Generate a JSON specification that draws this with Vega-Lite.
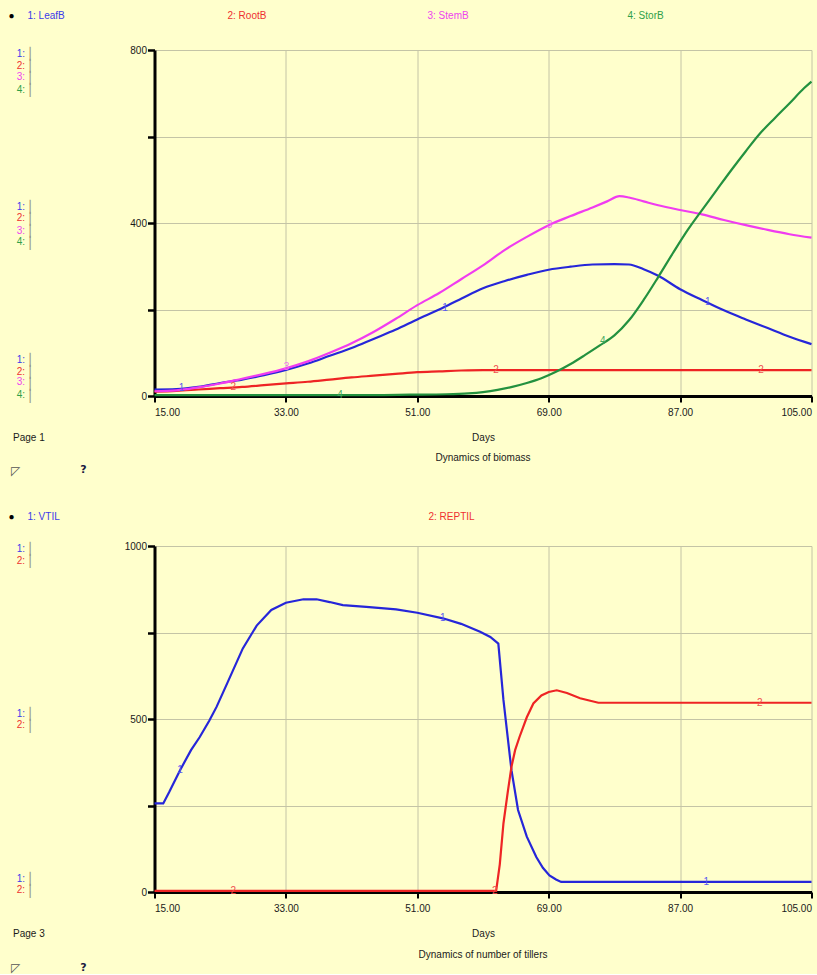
{
  "$schema": "https://vega.github.io/schema/vega-lite/v6.json",
  "background": "#FFFFCC",
  "padding": {"left": 8.5, "top": 11, "right": 4, "bottom": 1},
  "spacing": 150,
  "bounds": "flush",
  "resolve": {"scale": {"color": "independent"}, "legend": {"color": "independent"}},
  "config": {
    "view": {"stroke": null},
    "font": "Liberation Sans",
    "axis": {"labelFont": "Liberation Sans", "titleFont": "Liberation Sans", "labelFontSize": 10, "titleFontSize": 10, "titleFontWeight": "normal", "labelColor": "#1a1a1a", "titleColor": "#1a1a1a", "labelOverlap": false}
  },
  "datasets": {
    "biomass": [
      {"day":15,"series":"1: LeafB","value":15},{"day":18,"series":"1: LeafB","value":16},{"day":21,"series":"1: LeafB","value":21},{"day":24,"series":"1: LeafB","value":30},{"day":27,"series":"1: LeafB","value":38},{"day":30,"series":"1: LeafB","value":48},{"day":33,"series":"1: LeafB","value":60},{"day":36,"series":"1: LeafB","value":75},{"day":39,"series":"1: LeafB","value":93},{"day":42,"series":"1: LeafB","value":111},{"day":45,"series":"1: LeafB","value":132},{"day":48,"series":"1: LeafB","value":153},{"day":51,"series":"1: LeafB","value":177},{"day":54,"series":"1: LeafB","value":200},{"day":57,"series":"1: LeafB","value":225},{"day":60,"series":"1: LeafB","value":249},{"day":63,"series":"1: LeafB","value":266},{"day":66,"series":"1: LeafB","value":280},{"day":69,"series":"1: LeafB","value":292},{"day":72,"series":"1: LeafB","value":299},{"day":75,"series":"1: LeafB","value":304},{"day":78,"series":"1: LeafB","value":305},{"day":80,"series":"1: LeafB","value":304},{"day":82,"series":"1: LeafB","value":293},{"day":84,"series":"1: LeafB","value":278},{"day":87,"series":"1: LeafB","value":247},{"day":90,"series":"1: LeafB","value":222},{"day":93,"series":"1: LeafB","value":198},{"day":96,"series":"1: LeafB","value":177},{"day":99,"series":"1: LeafB","value":157},{"day":102,"series":"1: LeafB","value":137},{"day":105,"series":"1: LeafB","value":120},
      {"day":15,"series":"2: RootB","value":10},{"day":18,"series":"2: RootB","value":12},{"day":21,"series":"2: RootB","value":15},{"day":24,"series":"2: RootB","value":18},{"day":27,"series":"2: RootB","value":21},{"day":30,"series":"2: RootB","value":25},{"day":33,"series":"2: RootB","value":29},{"day":36,"series":"2: RootB","value":33},{"day":39,"series":"2: RootB","value":38},{"day":42,"series":"2: RootB","value":43},{"day":45,"series":"2: RootB","value":47},{"day":48,"series":"2: RootB","value":51},{"day":51,"series":"2: RootB","value":55},{"day":54,"series":"2: RootB","value":57},{"day":57,"series":"2: RootB","value":59},{"day":60,"series":"2: RootB","value":60},{"day":70,"series":"2: RootB","value":60},{"day":80,"series":"2: RootB","value":60},{"day":90,"series":"2: RootB","value":60},{"day":105,"series":"2: RootB","value":60},
      {"day":15,"series":"3: StemB","value":11},{"day":18,"series":"3: StemB","value":13},{"day":21,"series":"3: StemB","value":20},{"day":24,"series":"3: StemB","value":29},{"day":27,"series":"3: StemB","value":40},{"day":30,"series":"3: StemB","value":51},{"day":33,"series":"3: StemB","value":64},{"day":36,"series":"3: StemB","value":80},{"day":39,"series":"3: StemB","value":100},{"day":42,"series":"3: StemB","value":122},{"day":45,"series":"3: StemB","value":148},{"day":48,"series":"3: StemB","value":178},{"day":51,"series":"3: StemB","value":210},{"day":54,"series":"3: StemB","value":238},{"day":57,"series":"3: StemB","value":270},{"day":60,"series":"3: StemB","value":302},{"day":63,"series":"3: StemB","value":338},{"day":66,"series":"3: StemB","value":368},{"day":69,"series":"3: StemB","value":395},{"day":72,"series":"3: StemB","value":416},{"day":75,"series":"3: StemB","value":436},{"day":77,"series":"3: StemB","value":450},{"day":78.7,"series":"3: StemB","value":462},{"day":80,"series":"3: StemB","value":459},{"day":82,"series":"3: StemB","value":450},{"day":84,"series":"3: StemB","value":441},{"day":87,"series":"3: StemB","value":430},{"day":90,"series":"3: StemB","value":420},{"day":93,"series":"3: StemB","value":407},{"day":96,"series":"3: StemB","value":395},{"day":99,"series":"3: StemB","value":384},{"day":102,"series":"3: StemB","value":374},{"day":105,"series":"3: StemB","value":366},
      {"day":15,"series":"4: StorB","value":2},{"day":25,"series":"4: StorB","value":2},{"day":35,"series":"4: StorB","value":2},{"day":45,"series":"4: StorB","value":2},{"day":50,"series":"4: StorB","value":3},{"day":55,"series":"4: StorB","value":4},{"day":58,"series":"4: StorB","value":6},{"day":60,"series":"4: StorB","value":9},{"day":62,"series":"4: StorB","value":14},{"day":64,"series":"4: StorB","value":21},{"day":66,"series":"4: StorB","value":30},{"day":68,"series":"4: StorB","value":41},{"day":70,"series":"4: StorB","value":56},{"day":72,"series":"4: StorB","value":74},{"day":74,"series":"4: StorB","value":95},{"day":76,"series":"4: StorB","value":117},{"day":78,"series":"4: StorB","value":140},{"day":80,"series":"4: StorB","value":175},{"day":82,"series":"4: StorB","value":222},{"day":84,"series":"4: StorB","value":275},{"day":86,"series":"4: StorB","value":330},{"day":88,"series":"4: StorB","value":383},{"day":90,"series":"4: StorB","value":430},{"day":92,"series":"4: StorB","value":476},{"day":94,"series":"4: StorB","value":522},{"day":96,"series":"4: StorB","value":566},{"day":98,"series":"4: StorB","value":608},{"day":100,"series":"4: StorB","value":643},{"day":102,"series":"4: StorB","value":677},{"day":104,"series":"4: StorB","value":712},{"day":105,"series":"4: StorB","value":727}
    ],
    "bioLabels": [
      {"day":18.7,"series":"1: LeafB","value":18,"tag":"1"},{"day":54.8,"series":"1: LeafB","value":204,"tag":"1"},{"day":90.8,"series":"1: LeafB","value":218,"tag":"1"},
      {"day":25.8,"series":"2: RootB","value":20,"tag":"2"},{"day":61.8,"series":"2: RootB","value":60,"tag":"2"},{"day":98.1,"series":"2: RootB","value":60,"tag":"2"},
      {"day":33.1,"series":"3: StemB","value":66,"tag":"3"},{"day":69.1,"series":"3: StemB","value":396,"tag":"3"},
      {"day":40.4,"series":"4: StorB","value":2,"tag":"4"},{"day":76.4,"series":"4: StorB","value":128,"tag":"4"}
    ],
    "tillers": [
      {"day":15,"series":"1: VTIL","value":256},{"day":16.2,"series":"1: VTIL","value":256},{"day":17,"series":"1: VTIL","value":288},{"day":18.5,"series":"1: VTIL","value":352},{"day":20,"series":"1: VTIL","value":410},{"day":21.2,"series":"1: VTIL","value":448},{"day":22.5,"series":"1: VTIL","value":495},{"day":23.5,"series":"1: VTIL","value":535},{"day":25,"series":"1: VTIL","value":605},{"day":27.1,"series":"1: VTIL","value":704},{"day":29,"series":"1: VTIL","value":770},{"day":31,"series":"1: VTIL","value":815},{"day":33,"series":"1: VTIL","value":836},{"day":35.4,"series":"1: VTIL","value":846},{"day":37.2,"series":"1: VTIL","value":846},{"day":39,"series":"1: VTIL","value":838},{"day":40.8,"series":"1: VTIL","value":829},{"day":44,"series":"1: VTIL","value":824},{"day":48.1,"series":"1: VTIL","value":817},{"day":51,"series":"1: VTIL","value":807},{"day":54.5,"series":"1: VTIL","value":791},{"day":57,"series":"1: VTIL","value":775},{"day":59.6,"series":"1: VTIL","value":752},{"day":61,"series":"1: VTIL","value":737},{"day":62.1,"series":"1: VTIL","value":718},{"day":62.8,"series":"1: VTIL","value":555},{"day":63.9,"series":"1: VTIL","value":352},{"day":64.8,"series":"1: VTIL","value":237},{"day":66,"series":"1: VTIL","value":160},{"day":67.3,"series":"1: VTIL","value":101},{"day":68.2,"series":"1: VTIL","value":70},{"day":69.1,"series":"1: VTIL","value":48},{"day":70,"series":"1: VTIL","value":36},{"day":70.7,"series":"1: VTIL","value":29},{"day":80,"series":"1: VTIL","value":29},{"day":90,"series":"1: VTIL","value":29},{"day":105,"series":"1: VTIL","value":29},
      {"day":15,"series":"2: REPTIL","value":3},{"day":61.8,"series":"2: REPTIL","value":3},{"day":62.3,"series":"2: REPTIL","value":80},{"day":62.8,"series":"2: REPTIL","value":198},{"day":63.4,"series":"2: REPTIL","value":290},{"day":63.9,"series":"2: REPTIL","value":362},{"day":64.4,"series":"2: REPTIL","value":410},{"day":65,"series":"2: REPTIL","value":448},{"day":66,"series":"2: REPTIL","value":505},{"day":66.9,"series":"2: REPTIL","value":545},{"day":68,"series":"2: REPTIL","value":568},{"day":69,"series":"2: REPTIL","value":578},{"day":70.1,"series":"2: REPTIL","value":583},{"day":71.5,"series":"2: REPTIL","value":575},{"day":73.3,"series":"2: REPTIL","value":560},{"day":75.8,"series":"2: REPTIL","value":547},{"day":80,"series":"2: REPTIL","value":547},{"day":90,"series":"2: REPTIL","value":547},{"day":105,"series":"2: REPTIL","value":547}
    ],
    "tilLabels": [
      {"day":18.5,"series":"1: VTIL","value":352,"tag":"1"},{"day":54.5,"series":"1: VTIL","value":791,"tag":"1"},{"day":90.6,"series":"1: VTIL","value":29,"tag":"1"},
      {"day":25.8,"series":"2: REPTIL","value":3,"tag":"2"},{"day":61.6,"series":"2: REPTIL","value":3,"tag":"2"},{"day":97.9,"series":"2: REPTIL","value":547,"tag":"2"}
    ]
  },
  "vconcat": [
    {
      "width": 657,
      "height": 346,
      "title": {"text": "Dynamics of biomass", "orient": "bottom", "anchor": "middle", "offset": -23, "fontSize": 10, "fontWeight": "normal", "font": "Liberation Sans", "color": "#1a1a1a"},
      "resolve": {"scale": {"y": "independent"}},
      "layer": [
        {
          "data": {"name": "biomass"},
          "mark": {"type": "line", "strokeWidth": 2.2, "interpolate": "monotone"},
          "encoding": {
            "x": {"field": "day", "type": "quantitative", "scale": {"domain": [15, 105], "nice": false, "zero": false},
              "axis": {"values": [15, 33, 51, 69, 87, 105], "format": ".2f", "labelFlush": true, "labelPadding": 5, "tickSize": 6, "tickWidth": 2, "tickColor": "#000", "domainColor": "#000", "domainWidth": 3, "grid": true, "gridColor": "#c4c4a6", "gridWidth": 1, "title": "Days", "titleY": 41, "titleBaseline": "middle"}},
            "y": {"field": "value", "type": "quantitative", "scale": {"domain": [0, 800], "nice": false},
              "axis": {"values": [0, 200, 400, 600, 800], "labelExpr": "datum.value % 400 == 0 ? datum.label : ''", "tickSize": 7, "tickWidth": 2.5, "tickColor": "#000", "domainColor": "#000", "domainWidth": 3, "grid": true, "gridColor": "#c4c4a6", "gridWidth": 1, "labelPadding": 1, "title": "Page 1", "titleAngle": 0, "titleAlign": "left", "titleBaseline": "middle", "titleX": -142, "titleY": 387}},
            "color": {"field": "series", "type": "nominal",
              "scale": {"domain": ["1: LeafB", "2: RootB", "3: StemB", "4: StorB"], "range": ["#2626d9", "#ee2424", "#f03cf0", "#23913f"]},
              "legend": {"orient": "none", "legendX": -146, "legendY": -39, "direction": "horizontal", "columns": 4, "gridAlign": "all", "columnPadding": 148, "symbolSize": 0, "symbolStrokeWidth": 0, "symbolOpacity": 0, "labelOffset": 0, "labelFontSize": 10, "labelFont": "Liberation Sans", "title": "●", "titleOrient": "left", "titleBaseline": "middle", "titleFontSize": 10, "titlePadding": 2, "titleColor": "#000", "padding": 0,
                "encode": {"labels": {"update": {"fill": {"signal": "datum.value == '1: LeafB' ? '#3b3bea' : datum.value == '2: RootB' ? '#ee3030' : datum.value == '3: StemB' ? '#ee44ee' : '#2f9f4a'"}}}}}}
          }
        },
        {
          "data": {"name": "bioLabels"},
          "transform": [{"filter": "datum.series == '1: LeafB'"}],
          "mark": {"type": "text", "fontSize": 10, "font": "Liberation Sans", "color": "#5a5af0"},
          "encoding": {
            "x": {"field": "day", "type": "quantitative"},
            "y": {"field": "value", "type": "quantitative", "scale": {"domain": [0, 800], "nice": false},
              "axis": {"orient": "left", "offset": 128, "values": [793.06, 439.3, 85.5], "labelExpr": "'1:'", "domain": false, "ticks": false, "grid": false, "labelPadding": 2, "labelColor": "#3b3bea",
                "title": "?", "titleX": 56.5, "titleY": 419, "titleAngle": 0, "titleAlign": "center", "titleBaseline": "middle", "titleFont": "DejaVu Sans", "titleFontSize": 11, "titleFontWeight": "bold", "titleColor": "#1a1a40"}},
            "text": {"field": "tag"}
          }
        },
        {
          "data": {"name": "bioLabels"},
          "transform": [{"filter": "datum.series == '2: RootB'"}],
          "mark": {"type": "text", "fontSize": 10, "font": "Liberation Sans", "color": "#f05050"},
          "encoding": {
            "x": {"field": "day", "type": "quantitative"},
            "y": {"field": "value", "type": "quantitative", "scale": {"domain": [0, 800], "nice": false},
              "axis": {"orient": "left", "offset": 128, "values": [765.3, 411.6, 57.8], "labelExpr": "'2:'", "domain": false, "ticks": false, "grid": false, "labelPadding": 2, "labelColor": "#ee3030", "title": null}},
            "text": {"field": "tag"}
          }
        },
        {
          "data": {"name": "bioLabels"},
          "transform": [{"filter": "datum.series == '3: StemB'"}],
          "mark": {"type": "text", "fontSize": 10, "font": "Liberation Sans", "color": "#f070f0"},
          "encoding": {
            "x": {"field": "day", "type": "quantitative"},
            "y": {"field": "value", "type": "quantitative", "scale": {"domain": [0, 800], "nice": false},
              "axis": {"orient": "left", "offset": 128, "values": [737.6, 383.8, 32.4], "labelExpr": "'3:'", "domain": false, "ticks": false, "grid": false, "labelPadding": 2, "labelColor": "#ee44ee", "title": null}},
            "text": {"field": "tag"}
          }
        },
        {
          "data": {"name": "bioLabels"},
          "transform": [{"filter": "datum.series == '4: StorB'"}],
          "mark": {"type": "text", "fontSize": 10, "font": "Liberation Sans", "color": "#40a860"},
          "encoding": {
            "x": {"field": "day", "type": "quantitative"},
            "y": {"field": "value", "type": "quantitative", "scale": {"domain": [0, 800], "nice": false},
              "axis": {"orient": "left", "offset": 128, "values": [709.8, 356.1, 4.6], "labelExpr": "'4:'", "domain": false, "ticks": false, "grid": false, "labelPadding": 2, "labelColor": "#2f9f4a", "title": null}},
            "text": {"field": "tag"}
          }
        },
        {
          "data": {"name": "bioLabels"},
          "mark": {"type": "text", "opacity": 0},
          "encoding": {
            "x": {"field": "day", "type": "quantitative"},
            "y": {"field": "value", "type": "quantitative", "scale": {"domain": [0, 800], "nice": false},
              "axis": {"orient": "left", "offset": 125, "values": [793.06, 439.3, 85.5], "labelExpr": "['│','│','│','│']", "labelAlign": "center", "labelPadding": 0, "labelFont": "DejaVu Sans", "labelFontSize": 12, "labelLineHeight": 12, "labelColor": "#8f8f78", "domain": false, "ticks": false, "grid": false,
                "title": "◸", "titleX": -14.5, "titleY": 420, "titleAngle": 0, "titleAlign": "center", "titleBaseline": "middle", "titleFont": "DejaVu Sans", "titleFontSize": 12, "titleFontWeight": "normal", "titleColor": "#555555"}},
            "text": {"field": "tag"}
          }
        }
      ]
    },
    {
      "width": 657,
      "height": 346,
      "title": {"text": "Dynamics of number of tillers", "orient": "bottom", "anchor": "middle", "offset": -23, "fontSize": 10, "fontWeight": "normal", "font": "Liberation Sans", "color": "#1a1a1a"},
      "resolve": {"scale": {"y": "independent"}},
      "layer": [
        {
          "data": {"name": "tillers"},
          "mark": {"type": "line", "strokeWidth": 2.2, "interpolate": "linear"},
          "encoding": {
            "x": {"field": "day", "type": "quantitative", "scale": {"domain": [15, 105], "nice": false, "zero": false},
              "axis": {"values": [15, 33, 51, 69, 87, 105], "format": ".2f", "labelFlush": true, "labelPadding": 5, "tickSize": 6, "tickWidth": 2, "tickColor": "#000", "domainColor": "#000", "domainWidth": 3, "grid": true, "gridColor": "#c4c4a6", "gridWidth": 1, "title": "Days", "titleY": 41, "titleBaseline": "middle"}},
            "y": {"field": "value", "type": "quantitative", "scale": {"domain": [0, 1000], "nice": false},
              "axis": {"values": [0, 250, 500, 750, 1000], "labelExpr": "datum.value % 500 == 0 ? datum.label : ''", "format": "d", "tickSize": 7, "tickWidth": 2.5, "tickColor": "#000", "domainColor": "#000", "domainWidth": 3, "grid": true, "gridColor": "#c4c4a6", "gridWidth": 1, "labelPadding": 1, "title": "Page 3", "titleAngle": 0, "titleAlign": "left", "titleBaseline": "middle", "titleX": -142, "titleY": 387}},
            "color": {"field": "series", "type": "nominal",
              "scale": {"domain": ["1: VTIL", "2: REPTIL"], "range": ["#2626d9", "#ee2424"]},
              "legend": {"orient": "none", "legendX": -146, "legendY": -34, "direction": "horizontal", "columns": 2, "gridAlign": "all", "columnPadding": 344, "symbolSize": 0, "symbolStrokeWidth": 0, "symbolOpacity": 0, "labelOffset": 0, "labelFontSize": 10, "labelFont": "Liberation Sans", "title": "●", "titleOrient": "left", "titleBaseline": "middle", "titleFontSize": 10, "titlePadding": 2, "titleColor": "#000", "padding": 0,
                "encode": {"labels": {"update": {"fill": {"signal": "datum.value == '1: VTIL' ? '#3b3bea' : '#ee3030'"}}}}}}
          }
        },
        {
          "data": {"name": "tilLabels"},
          "transform": [{"filter": "datum.series == '1: VTIL'"}],
          "mark": {"type": "text", "fontSize": 10, "font": "Liberation Sans", "color": "#5a5af0"},
          "encoding": {
            "x": {"field": "day", "type": "quantitative"},
            "y": {"field": "value", "type": "quantitative", "scale": {"domain": [0, 1000], "nice": false},
              "axis": {"orient": "left", "offset": 128, "values": [994.2, 517.3, 37.6], "labelExpr": "'1:'", "domain": false, "ticks": false, "grid": false, "labelPadding": 2, "labelColor": "#3b3bea",
                "title": "?", "titleX": 56.5, "titleY": 421, "titleAngle": 0, "titleAlign": "center", "titleBaseline": "middle", "titleFont": "DejaVu Sans", "titleFontSize": 11, "titleFontWeight": "bold", "titleColor": "#1a1a40"}},
            "text": {"field": "tag"}
          }
        },
        {
          "data": {"name": "tilLabels"},
          "transform": [{"filter": "datum.series == '2: REPTIL'"}],
          "mark": {"type": "text", "fontSize": 10, "font": "Liberation Sans", "color": "#f05050"},
          "encoding": {
            "x": {"field": "day", "type": "quantitative"},
            "y": {"field": "value", "type": "quantitative", "scale": {"domain": [0, 1000], "nice": false},
              "axis": {"orient": "left", "offset": 128, "values": [959.5, 482.7, 5.8], "labelExpr": "'2:'", "domain": false, "ticks": false, "grid": false, "labelPadding": 2, "labelColor": "#ee3030", "title": null}},
            "text": {"field": "tag"}
          }
        },
        {
          "data": {"name": "tilLabels"},
          "mark": {"type": "text", "opacity": 0},
          "encoding": {
            "x": {"field": "day", "type": "quantitative"},
            "y": {"field": "value", "type": "quantitative", "scale": {"domain": [0, 1000], "nice": false},
              "axis": {"orient": "left", "offset": 125, "values": [994.2, 517.3, 37.6], "labelExpr": "['│','│']", "labelAlign": "center", "labelPadding": 0, "labelFont": "DejaVu Sans", "labelFontSize": 12, "labelLineHeight": 12, "labelColor": "#8f8f78", "domain": false, "ticks": false, "grid": false,
                "title": "◸", "titleX": -14.5, "titleY": 421, "titleAngle": 0, "titleAlign": "center", "titleBaseline": "middle", "titleFont": "DejaVu Sans", "titleFontSize": 12, "titleFontWeight": "normal", "titleColor": "#555555"}},
            "text": {"field": "tag"}
          }
        }
      ]
    }
  ]
}
